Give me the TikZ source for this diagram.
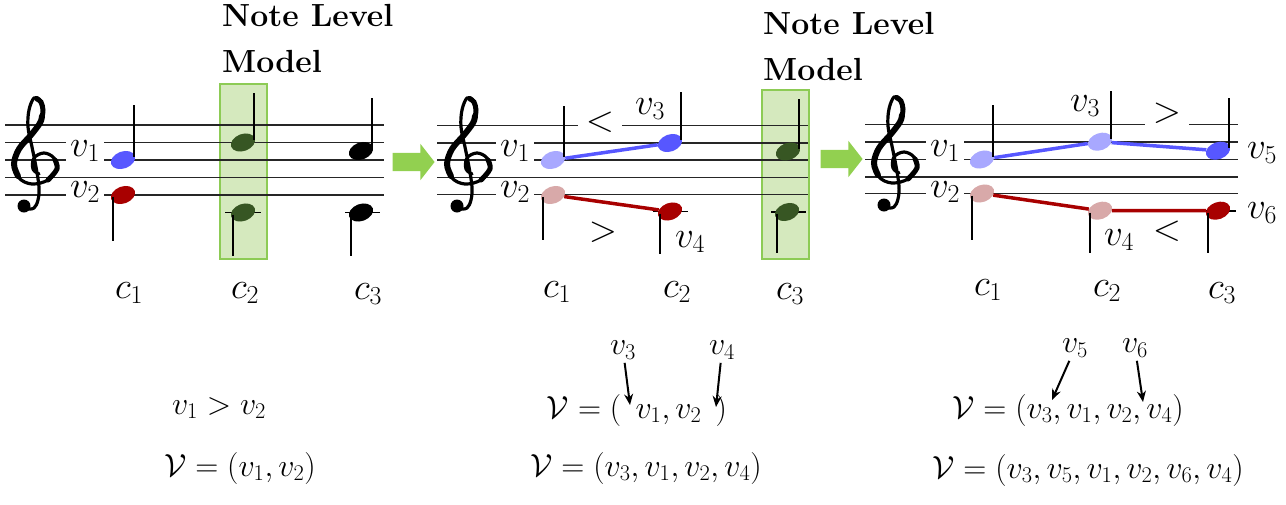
\RequirePackage{fix-cm}
\documentclass[tikz,border=0pt]{standalone}
\usepackage{fontspec}
\usetikzlibrary{positioning, arrows.meta, shapes.geometric, shapes.arrows, calc}

\definecolor{headblue}{HTML}{5757FF}
\definecolor{paleblue}{HTML}{A8A8FF}
\definecolor{headred}{HTML}{A80000}
\definecolor{palered}{HTML}{D8A9A9}
\definecolor{headgreen}{HTML}{375623}
\definecolor{modelfill}{HTML}{D5E9BE}
\definecolor{modeldraw}{HTML}{8DCB55}
\definecolor{stepgreen}{HTML}{92D050}

\tikzset{
  trebleclef/.pic={
    \draw[line width=3.2pt, line cap=round, line join=round] plot[smooth, tension=0.6] coordinates
      {(24,117) (31,116) (35,108) (36,95) (33,75) (29,55) (25,35) (26,18) (31,6) (37,8) (40,18)
       (37,31) (28,43) (16,57) (11,72) (16,86) (29,92) (45,88) (54,77) (51,66) (41,61) (31,66) (30,77) (36,82)};
    \draw[line width=6pt, line cap=round] plot[smooth, tension=0.6] coordinates
      {(39,24) (37,31) (28,43) (16,57) (11,72) (15,84)};
    \draw[line width=5pt, line cap=round] plot[smooth, tension=0.6] coordinates
      {(34,7) (38,10) (40,18) (39,25)};
    \draw[line width=5pt, line cap=round] plot[smooth, tension=0.6] coordinates
      {(45,88) (54,77) (52,68)};
    \fill (21,114) circle (6.5);
  }
}

\begin{document}
\begin{tikzpicture}[
    x=1pt, y=-1pt,
    staffline/.style={line width=1.6pt, black!85},
    head/.style={ellipse, minimum width=25pt, minimum height=17pt, inner sep=0pt, rotate=20},
    stem/.style={line width=1.8pt},
    ledger/.style={line width=1.8pt},
    voice/.style={fill=white, inner xsep=4pt, inner ysep=2pt, font=\fontsize{37}{40}\selectfont},
    chord/.style={inner sep=1pt, font=\fontsize{37}{40}\selectfont},
    cmp/.style={fill=white, inner sep=0pt, minimum width=44pt, minimum height=28pt, font=\fontsize{37}{40}\selectfont},
    model/.style={draw=modeldraw, line width=1.5pt, fill=modelfill, minimum width=47pt},
    modeltitle/.style={anchor=north west, align=left, inner sep=0pt, font=\fontsize{32}{46}\selectfont\bfseries},
    stepper/.style={single arrow, fill=stepgreen, inner xsep=0pt, inner ysep=9pt, single arrow head extend=9pt,
      single arrow tip angle=104, minimum height=42pt},
    formula/.style={font=\fontsize{32}{36}\selectfont},
    ptr/.style={-{Stealth[length=11pt, width=9pt]}, line width=2pt},
    link/.style={line width=3.5pt}
  ]
  \useasboundingbox (0,0) rectangle (1286,504);

  % first score
  \node[model, minimum height=175pt] (box1) at (243.5,171.5) {};
  \node[modeltitle] (title1) at (222,4) {Note Level\\Model};
  \foreach \y in {125,142.5,160,177.5,195}
    \draw[staffline] (5,\y) -- (384,\y);
  \pic (clef1) at (3,92) {trebleclef};
  \node[voice] (v1a) at (85,151) {$v_1$};
  \node[voice] (v2a) at (85,192) {$v_2$};

  \node[head, fill=headblue] (n11a) at (123,160) {};
  \draw[stem] ($(n11a)+(11,-3)$) -- ++(0,-52);
  \node[head, fill=headred] (n12a) at (123,195) {};
  \draw[stem] ($(n12a)+(-10,2)$) -- ++(0,44);

  \node[head, fill=headgreen] (n21a) at (243,142.5) {};
  \draw[stem] ($(n21a)+(11,-3)$) -- ++(0,-47);
  \draw[ledger] (225,212.5) -- (261,212.5);
  \node[head, fill=headgreen] (n22a) at (243,212.5) {};
  \draw[stem] ($(n22a)+(-10,2)$) -- ++(0,41);

  \node[head, fill=black] (n31a) at (361,151) {};
  \draw[stem] ($(n31a)+(11,-3)$) -- ++(0,-50);
  \draw[ledger] (345,212.5) -- (380,212.5);
  \node[head, fill=black] (n32a) at (361,212.5) {};
  \draw[stem] ($(n32a)+(-10,2)$) -- ++(0,41);

  \node[chord] (c1a) at (129,293) {$c_1$};
  \node[chord] (c2a) at (245,293) {$c_2$};
  \node[chord] (c3a) at (368,294) {$c_3$};

  \node[stepper] (go1) at (410,162) {};

  % second score
  \node[model, minimum height=169pt] (box2) at (785.5,174.5) {};
  \node[modeltitle] (title2) at (763,12) {Note Level\\Model};
  \foreach \y in {125.5,143,160,177.5,194.5}
    \draw[staffline] (437,\y) -- (808,\y);
  \pic (clef2) at (436,92) {trebleclef};
  \node[voice] (v1b) at (515,151) {$v_1$};
  \node[voice] (v2b) at (515,192) {$v_2$};
  \node[cmp] (lt2) at (600,122) {$<$};
  \node[chord] (v3b) at (650,109) {$v_3$};
  \node[chord] (gt2) at (603,232) {$>$};
  \node[chord] (v4b) at (690,242) {$v_4$};

  \node[head, fill=paleblue] (n11b) at (553,160) {};
  \draw[stem] ($(n11b)+(11,-3)$) -- ++(0,-51);
  \node[head, fill=palered] (n12b) at (553,195) {};
  \draw[stem] ($(n12b)+(-10,2)$) -- ++(0,43);

  \node[head, fill=headblue] (n21b) at (670,143) {};
  \draw[stem] ($(n21b)+(11,-3)$) -- ++(0,-48);
  \draw[ledger] (653,211.5) -- (688,211.5);
  \node[head, fill=headred] (n22b) at (670,211.5) {};
  \draw[stem] ($(n22b)+(-10,2)$) -- ++(0,40);

  \node[head, fill=headgreen] (n31b) at (788,151.5) {};
  \draw[stem] ($(n31b)+(11,-3)$) -- ++(0,-50);
  \draw[ledger] (771,212) -- (806,212);
  \node[head, fill=headgreen] (n32b) at (787,212) {};
  \draw[stem] ($(n32b)+(-10,2)$) -- ++(0,39);

  \draw[link, headblue] (n11b) -- (n21b);
  \draw[link, headred] (n12b) -- (n22b);

  \node[chord] (c1b) at (557,292) {$c_1$};
  \node[chord] (c2b) at (677,292) {$c_2$};
  \node[chord] (c3b) at (790,294) {$c_3$};

  \node[stepper] (go2) at (838,159) {};

  % third score
  \foreach \y in {124.3,141.7,159.3,176.7,193.3}
    \draw[staffline] (865,\y) -- (1238,\y);
  \node[cmp] (gt3) at (1167,113) {$>$};
  \pic (clef3) at (863,91) {trebleclef};
  \node[voice] (v1c) at (945,151) {$v_1$};
  \node[voice] (v2c) at (945,192) {$v_2$};
  \node[chord] (v3c) at (1085,106) {$v_3$};
  \node[chord] (lt3) at (1167,231) {$<$};
  \node[chord] (v4c) at (1119,240) {$v_4$};
  \node[chord] (v5c) at (1262,153) {$v_5$};
  \node[chord] (v6c) at (1262,213) {$v_6$};

  \node[head, fill=paleblue] (n11c) at (982,159.5) {};
  \draw[stem] ($(n11c)+(11,-3)$) -- ++(0,-52);
  \node[head, fill=palered] (n12c) at (982,193.5) {};
  \draw[stem] ($(n12c)+(-10,2)$) -- ++(0,44);

  \node[head, fill=paleblue] (n21c) at (1100,141.7) {};
  \draw[stem] ($(n21c)+(11,-3)$) -- ++(0,-48);
  \node[head, fill=palered] (n22c) at (1100,210.7) {};
  \draw[stem] ($(n22c)+(-10,2)$) -- ++(0,40);

  \node[head, fill=headblue] (n31c) at (1218,150.7) {};
  \draw[stem] ($(n31c)+(11,-3)$) -- ++(0,-50);
  \draw[ledger] (1200,210.7) -- (1236,210.7);
  \node[head, fill=headred] (n32c) at (1218,210.7) {};
  \draw[stem] ($(n32c)+(-10,2)$) -- ++(0,40);

  \draw[link, headblue] (n11c) -- (n21c) -- (n31c);
  \draw[link, headred] (n12c) -- (n22c) -- (n32c);

  \node[chord] (c1c) at (988,290) {$c_1$};
  \node[chord] (c2c) at (1107,291) {$c_2$};
  \node[chord] (c3c) at (1222,293) {$c_3$};

  % orderings
  \node[formula] (f1) at (219,408) {$v_1 > v_2$};
  \node[formula] (f2) at (240,468) {$\mathcal{V} = (v_1, v_2)$};

  \node[formula] (f3) at (637,410) {$\mathcal{V} = (\;\,v_1, v_2\;\,)$};
  \node[formula] (f4) at (646,468) {$\mathcal{V} = (v_3, v_1, v_2, v_4)$};
  \node[formula] (p3) at (623,350) {$v_3$};
  \node[formula] (p4) at (722,350) {$v_4$};
  \coordinate (a3) at (630,405);
  \coordinate (a4) at (716,407);
  \draw[ptr] (p3) -- (a3);
  \draw[ptr] (p4) -- (a4);

  \node[formula] (f5) at (1068,410) {$\mathcal{V} = (v_3, v_1, v_2, v_4)$};
  \node[formula] (f6) at (1088,470) {$\mathcal{V} = (v_3, v_5, v_1, v_2, v_6, v_4)$};
  \node[formula] (p5) at (1075,348) {$v_5$};
  \node[formula] (p6) at (1135,348) {$v_6$};
  \coordinate (a5) at (1052,400);
  \coordinate (a6) at (1143,402);
  \draw[ptr] (p5) -- (a5);
  \draw[ptr] (p6) -- (a6);
\end{tikzpicture}
\end{document}
